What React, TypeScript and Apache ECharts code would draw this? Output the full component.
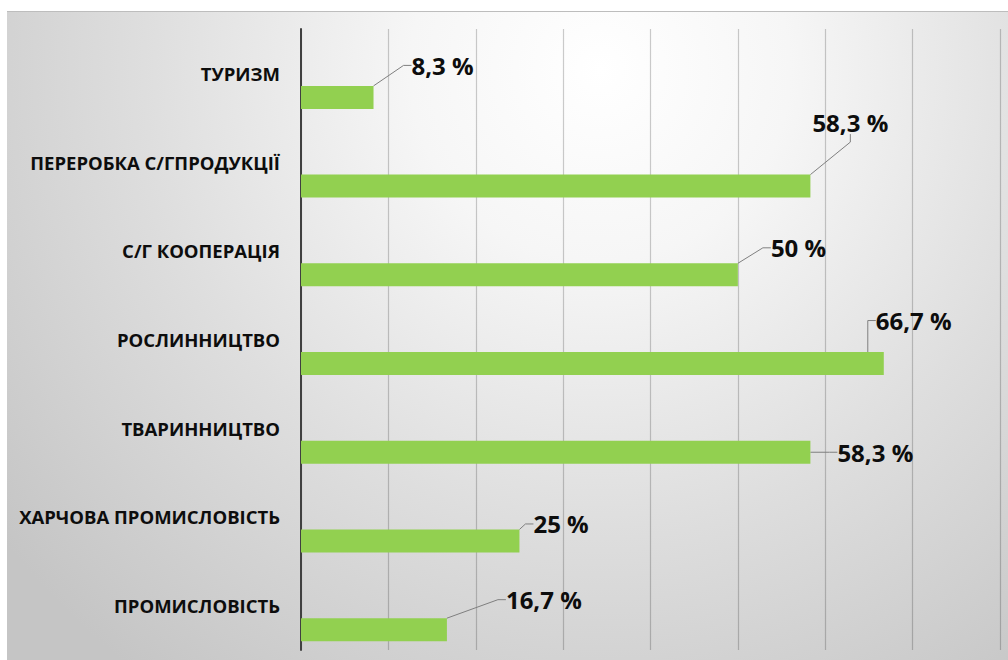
import React, { useEffect, useRef } from "react";
import * as echarts from "echarts";

const categories = [
  "ТУРИЗМ",
  "ПЕРЕРОБКА С/ГПРОДУКЦІЇ",
  "С/Г КООПЕРАЦІЯ",
  "РОСЛИННИЦТВО",
  "ТВАРИННИЦТВО",
  "ХАРЧОВА ПРОМИСЛОВІСТЬ",
  "ПРОМИСЛОВІСТЬ",
];
const values = [8.3, 58.3, 50, 66.7, 58.3, 25, 16.7];
const axisMax = 80;
const axisStep = 10;

// label callout displacement (px) relative to the bar end / bar centre
const labelShift: [number, number][] = [
  [38, -32],
  [2, -64],
  [33, -27],
  [-8, -43],
  [27, 0],
  [14, -17],
  [59, -30],
];

export default function App() {
  const ref = useRef<HTMLDivElement>(null);
  useEffect(() => {
    if (!ref.current) return;
    const chart = echarts.init(ref.current, null, { renderer: "svg" });
    const option: any = {
      animation: false,
      graphic: [
        {
          type: "rect",
          z: -10,
          silent: true,
          shape: { x: 7, y: 11, width: 1001, height: 649 },
          style: {
            fill: new echarts.graphic.RadialGradient(
              600,
              70,
              760,
              [
                { offset: 0, color: "#ffffff" },
                { offset: 0.25, color: "#f6f6f6" },
                { offset: 0.6, color: "#dedede" },
                { offset: 1, color: "#c5c5c5" },
              ],
              true
            ),
          },
        },
        {
          type: "line",
          silent: true,
          shape: { x1: 7, y1: 11.5, x2: 1008, y2: 11.5 },
          style: { stroke: "#bdbdbd", lineWidth: 1 },
        },
      ],
      grid: { left: 301, right: 8, top: 29, height: 621, containLabel: false },
      xAxis: {
        type: "value",
        min: 0,
        max: axisMax,
        interval: axisStep,
        axisLabel: { show: false },
        axisLine: { show: false },
        axisTick: { show: false },
        splitLine: { show: true, lineStyle: { color: "rgba(0,0,0,0.2)", width: 1.2 } },
      },
      yAxis: {
        type: "category",
        data: categories,
        inverse: true,
        axisTick: { show: false },
        axisLine: { show: true, lineStyle: { color: "#404040", width: 2 } },
        axisLabel: {
          margin: 21,
          color: "#0d0d0d",
          fontFamily: "Open Sans",
          fontWeight: "bold",
          fontSize: 18.5,
        },
      },
      series: [
        {
          type: "bar",
          name: "spacer",
          data: categories.map(() => null),
          barWidth: 23,
          barGap: "109%",
          silent: true,
        },
        {
          type: "bar",
          name: "share",
          data: values,
          barWidth: 23,
          barGap: "109%",
          itemStyle: { color: "#92d050" },
          label: {
            show: true,
            position: "right",
            distance: 0,
            color: "#0d0d0d",
            fontFamily: "Open Sans",
            fontWeight: "bold",
            fontSize: 24,
            formatter: (p: any) => String(p.value).replace(".", ",") + " %",
          },
          labelLine: {
            show: true,
            length2: 8,
            lineStyle: { color: "#7f7f7f", width: 1 },
          },
          labelLayout: (p: any) => {
            const s = labelShift[p.dataIndex] || [0, 0];
            return { dx: s[0], dy: s[1] };
          },
        },
      ],
    };
    chart.setOption(option);
    return () => chart.dispose();
  }, []);
  return (
    <div
      ref={ref}
      style={{ position: "fixed", left: 0, top: 0, width: 1008, height: 660, background: "#ffffff" }}
    />
  );
}
